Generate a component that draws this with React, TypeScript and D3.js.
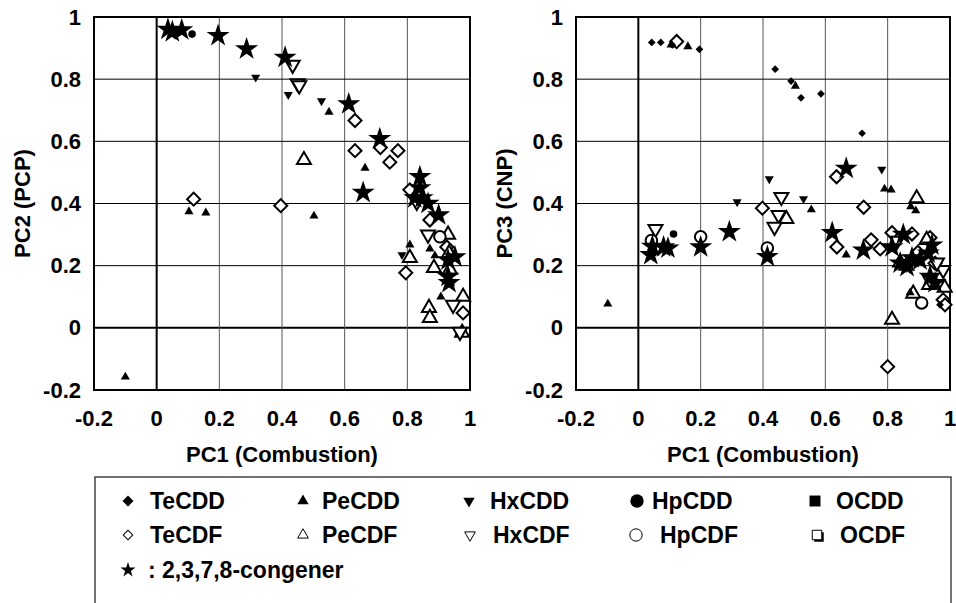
import React from 'react';
import * as d3 from 'd3';

// tick values / labels shared by both panels
const ticks = [-0.2, 0, 0.2, 0.4, 0.6, 0.8, 1];
const tickLabels = ['-0.2', '0', '0.2', '0.4', '0.6', '0.8', '1'];

type Pt = [number, number];

// PC1 vs PC2 (PCP)
const pc2TeCDD: Pt[] = [[0.06, 0.948], [0.2, 0.938]];
const pc2PeCDD: Pt[] = [[-0.1, -0.158], [0.103, 0.374], [0.157, 0.37], [0.502, 0.36], [0.55, 0.694], [0.665, 0.514], [0.808, 0.267], [0.872, 0.254], [0.888, 0.232], [0.907, 0.1]];
const pc2HxCDD: Pt[] = [[0.316, 0.806], [0.42, 0.75], [0.526, 0.73], [0.783, 0.235]];
const pc2HpCDD: Pt[] = [[0.113, 0.945]];
const pc2TeCDF: Pt[] = [[0.118, 0.414], [0.396, 0.393], [0.633, 0.667], [0.633, 0.57], [0.714, 0.58], [0.744, 0.533], [0.77, 0.57], [0.808, 0.444], [0.795, 0.177], [0.872, 0.347], [0.926, 0.26], [0.978, 0.048]];
const pc2PeCDF: Pt[] = [[0.47, 0.54], [0.808, 0.225], [0.885, 0.193], [0.869, 0.064], [0.872, 0.032], [0.978, 0.1], [0.936, 0.187], [0.975, -0.016], [0.933, 0.24], [0.93, 0.3]];
const pc2HxCDF: Pt[] = [[0.434, 0.846], [0.45, 0.787], [0.455, 0.78], [0.866, 0.3], [0.946, 0.074], [0.968, -0.013], [0.83, 0.405]];
const pc2HpCDF: Pt[] = [[0.904, 0.293]];
const pc2Congener: Pt[] = [[0.036, 0.96], [0.05, 0.952], [0.08, 0.958], [0.196, 0.94], [0.287, 0.897], [0.41, 0.87], [0.613, 0.72], [0.712, 0.608], [0.659, 0.435], [0.84, 0.486], [0.84, 0.45], [0.824, 0.418], [0.847, 0.418], [0.866, 0.4], [0.9, 0.363], [0.952, 0.228], [0.93, 0.218], [0.93, 0.165], [0.933, 0.145]];

// PC1 vs PC3 (CNP)
const pc3TeCDD: Pt[] = [[0.043, 0.918], [0.072, 0.918], [0.109, 0.91], [0.196, 0.896], [0.439, 0.832], [0.49, 0.794], [0.522, 0.74], [0.586, 0.753], [0.718, 0.626], [0.968, 0.074]];
const pc3PeCDD: Pt[] = [[-0.098, 0.077], [0.105, 0.91], [0.159, 0.905], [0.504, 0.778], [0.555, 0.38], [0.667, 0.235], [0.79, 0.447], [0.811, 0.444], [0.874, 0.39], [0.89, 0.377], [0.872, 0.113]];
const pc3HxCDD: Pt[] = [[0.317, 0.405], [0.42, 0.479], [0.53, 0.415], [0.781, 0.51]];
const pc3HpCDD: Pt[] = [[0.113, 0.302]];
const pc3TeCDF: Pt[] = [[0.123, 0.921], [0.398, 0.385], [0.636, 0.486], [0.723, 0.388], [0.637, 0.26], [0.747, 0.283], [0.776, 0.254], [0.814, 0.306], [0.878, 0.302], [0.936, 0.29], [0.897, 0.243], [0.978, 0.09], [0.984, 0.074], [0.8, -0.125], [0.952, 0.208]];
const pc3PeCDF: Pt[] = [[0.475, 0.35], [0.814, 0.026], [0.893, 0.417], [0.882, 0.11], [0.933, 0.138], [0.983, 0.129], [0.925, 0.283], [0.84, 0.21], [0.86, 0.2]];
const pc3HxCDF: Pt[] = [[0.055, 0.318], [0.459, 0.421], [0.45, 0.363], [0.437, 0.325], [0.978, 0.186], [0.936, 0.154], [0.958, 0.21], [0.83, 0.28]];
const pc3HpCDF: Pt[] = [[0.042, 0.281], [0.2, 0.293], [0.414, 0.257], [0.909, 0.08]];
const pc3Congener: Pt[] = [[0.04, 0.235], [0.045, 0.262], [0.081, 0.26], [0.095, 0.256], [0.2, 0.26], [0.292, 0.309], [0.414, 0.229], [0.622, 0.306], [0.667, 0.513], [0.722, 0.25], [0.814, 0.26], [0.85, 0.3], [0.84, 0.208], [0.862, 0.197], [0.878, 0.225], [0.904, 0.218], [0.93, 0.24], [0.942, 0.266], [0.952, 0.145], [0.936, 0.165]];

const FONT = '"Liberation Sans", Arial, sans-serif';

type Shape = 'diamond' | 'up' | 'down' | 'circle' | 'square' | 'star';

function symbolPath(shape: Shape, size: number) {
  const type =
    shape === 'circle' ? d3.symbolCircle :
    shape === 'star' ? d3.symbolStar :
    shape === 'up' || shape === 'down' ? d3.symbolTriangle :
    d3.symbolSquare;
  return d3.symbol().type(type).size(size)() as string;
}

function rot(shape: Shape) {
  if (shape === 'diamond') return 45;
  if (shape === 'down') return 180;
  return 0;
}

function Marker({ x, y, shape, size, filled, sw = 2 }: { x: number; y: number; shape: Shape; size: number; filled: boolean; sw?: number }) {
  return (
    <path
      d={symbolPath(shape, size)}
      transform={`translate(${x},${y}) rotate(${rot(shape)})`}
      fill={filled ? '#000' : '#fff'}
      stroke="#000"
      strokeWidth={filled ? 0 : sw}
    />
  );
}

function Panel({ x0, x1, yTitle, series }: { x0: number; x1: number; yTitle: string; series: { data: Pt[]; shape: Shape; size: number; filled: boolean }[] }) {
  const x = d3.scaleLinear().domain([-0.2, 1]).range([x0, x1]);
  const y = d3.scaleLinear().domain([-0.2, 1]).range([390, 17]);
  return (
    <g>
      {ticks.slice(1, -1).map((t) => (
        <g key={t}>
          <line x1={x(t)} x2={x(t)} y1={y(-0.2)} y2={y(1)} stroke={t === 0 ? '#000' : '#555'} strokeWidth={t === 0 ? 2 : 1} />
          <line x1={x(-0.2)} x2={x(1)} y1={y(t)} y2={y(t)} stroke="#000" strokeWidth={t === 0 ? 2 : 1} />
        </g>
      ))}
      <rect x={x(-0.2)} y={y(1)} width={x(1) - x(-0.2)} height={y(-0.2) - y(1)} fill="none" stroke="#000" strokeWidth={2} />
      {series.map((s, i) => (
        <g key={i}>
          {s.data.map((d, j) => (
            <Marker key={j} x={x(d[0])} y={y(d[1])} shape={s.shape} size={s.size} filled={s.filled} />
          ))}
        </g>
      ))}
      {ticks.map((t, i) => (
        <text key={'x' + t} x={x(t)} y={418} textAnchor="middle" dominantBaseline="central" fontSize={22} fontWeight="bold" fontFamily={FONT}>
          {tickLabels[i]}
        </text>
      ))}
      {ticks.map((t, i) => (
        <text key={'y' + t} x={x0 - 13} y={y(t)} textAnchor="end" dominantBaseline="central" fontSize={22} fontWeight="bold" fontFamily={FONT}>
          {tickLabels[i]}
        </text>
      ))}
      <text x={(x0 + x1) / 2} y={454} textAnchor="middle" dominantBaseline="central" fontSize={22} fontWeight="bold" fontFamily={FONT}>
        PC1 (Combustion)
      </text>
      <text transform={`translate(${x0 - 72},${y(0.4)}) rotate(-90)`} textAnchor="middle" dominantBaseline="central" fontSize={22} fontWeight="bold" fontFamily={FONT}>
        {yTitle}
      </text>
    </g>
  );
}

function makeSeries(te: Pt[], pe: Pt[], hx: Pt[], hp: Pt[], teF: Pt[], peF: Pt[], hxF: Pt[], hpF: Pt[], star: Pt[]) {
  return [
    { data: teF, shape: 'diamond' as Shape, size: 85, filled: false },
    { data: peF, shape: 'up' as Shape, size: 85, filled: false },
    { data: hxF, shape: 'down' as Shape, size: 85, filled: false },
    { data: hpF, shape: 'circle' as Shape, size: 105, filled: false },
    { data: te, shape: 'diamond' as Shape, size: 30, filled: true },
    { data: pe, shape: 'up' as Shape, size: 36, filled: true },
    { data: hx, shape: 'down' as Shape, size: 36, filled: true },
    { data: hp, shape: 'circle' as Shape, size: 45, filled: true },
    { data: star, shape: 'star' as Shape, size: 165, filled: true },
  ];
}

const legendRows: { label: string; shape: Shape; filled: boolean; mx: number; tx: number; row: number; size: number }[] = [
  { label: 'TeCDD', shape: 'diamond', filled: true, mx: 128, tx: 150, row: 0, size: 60 },
  { label: 'PeCDD', shape: 'up', filled: true, mx: 303, tx: 322, row: 0, size: 55 },
  { label: 'HxCDD', shape: 'down', filled: true, mx: 469, tx: 490, row: 0, size: 55 },
  { label: 'HpCDD', shape: 'circle', filled: true, mx: 637, tx: 652, row: 0, size: 140 },
  { label: 'OCDD', shape: 'square', filled: true, mx: 815, tx: 836, row: 0, size: 120 },
  { label: 'TeCDF', shape: 'diamond', filled: false, mx: 128, tx: 150, row: 1, size: 45 },
  { label: 'PeCDF', shape: 'up', filled: false, mx: 303, tx: 322, row: 1, size: 50 },
  { label: 'HxCDF', shape: 'down', filled: false, mx: 470, tx: 493, row: 1, size: 50 },
  { label: 'HpCDF', shape: 'circle', filled: false, mx: 636, tx: 660, row: 1, size: 120 },
  { label: 'OCDF', shape: 'square', filled: false, mx: 817, tx: 840, row: 1, size: 90 },
];
const rowY = [501, 535, 570];

export default function App() {
  return (
    <svg width={956} height={603} style={{ position: 'absolute', left: 0, top: 0, background: '#fff' }}>
      <rect width={956} height={603} fill="#fff" />
      <Panel x0={94} x1={470} yTitle="PC2 (PCP)" series={makeSeries(pc2TeCDD, pc2PeCDD, pc2HxCDD, pc2HpCDD, pc2TeCDF, pc2PeCDF, pc2HxCDF, pc2HpCDF, pc2Congener)} />
      <Panel x0={576} x1={950} yTitle="PC3 (CNP)" series={makeSeries(pc3TeCDD, pc3PeCDD, pc3HxCDD, pc3HpCDD, pc3TeCDF, pc3PeCDF, pc3HxCDF, pc3HpCDF, pc3Congener)} />
      <rect x={95} y={477} width={856} height={140} fill="none" stroke="#444" strokeWidth={1.5} />
      {legendRows.map((r) => (
        <g key={r.label}>
          {r.shape === 'square' && !r.filled && (
            <path d={symbolPath('square', r.size)} transform={`translate(${r.mx + 2},${rowY[r.row] + 2})`} fill="#000" />
          )}
          <Marker x={r.mx} y={rowY[r.row]} shape={r.shape} size={r.size} filled={r.filled} sw={1} />
          <text x={r.tx} y={rowY[r.row]} dominantBaseline="central" fontSize={23} fontWeight="bold" fontFamily={FONT}>
            {r.label}
          </text>
        </g>
      ))}
      <Marker x={128} y={rowY[2]} shape="star" size={70} filled />
      <text x={148} y={rowY[2]} dominantBaseline="central" fontSize={23} fontWeight="bold" fontFamily={FONT}>
        : 2,3,7,8-congener
      </text>
    </svg>
  );
}
